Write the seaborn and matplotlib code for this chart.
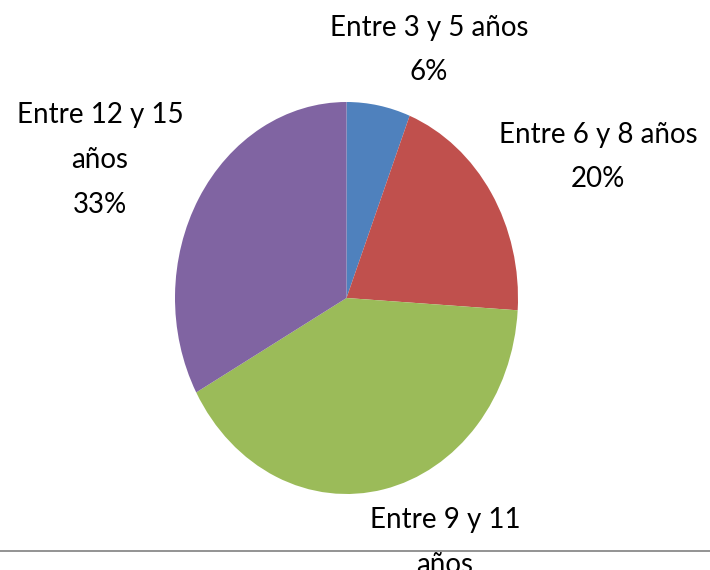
import matplotlib.pyplot as plt
import seaborn as sns
from matplotlib.lines import Line2D

# grupos de edad y porcentaje
grupos = ["Entre 3 y 5 años", "Entre 6 y 8 años", "Entre 9 y 11 años", "Entre 12 y 15 años"]
porcentajes = [6, 20, 41, 33]
etiquetas = ["Entre 3 y 5 años\n6%", "Entre 6 y 8 años\n20%",
             "Entre 9 y 11\naños\n41%", "Entre 12 y 15\naños\n33%"]
colores = ["#4F81BD", "#C0504D", "#9BBB59", "#8064A2"]

# posiciones de las etiquetas en pixeles (x, y desde arriba)
pos_etiquetas = [(429, 50), (598, 157), (445, 565), (100, 160)]

sns.set_theme(style="white")
plt.rcParams['font.family'] = ['Lato', 'DejaVu Sans']

W, H = 710, 570
fig = plt.figure(figsize=(W / 100, H / 100), dpi=100)
fig.patch.set_facecolor("white")
ax = fig.add_axes([175 / W, 1 - 494 / H, 343 / W, 392 / H])
ax.pie(porcentajes, colors=colores, startangle=90, counterclock=False,
       wedgeprops=dict(linewidth=0))
ax.set_aspect('auto')
ax.set_xlim(-1, 1)
ax.set_ylim(-1, 1)
ax.axis('off')

for txt, (px, py) in zip(etiquetas, pos_etiquetas):
    fig.text(px / W, 1 - py / H, txt, ha='center', va='center', fontsize=20,
             color='black', linespacing=1.9)

# linea gris del borde inferior
fig.add_artist(Line2D([0, 1], [1 - 551 / H, 1 - 551 / H], color='#808080', lw=1.2,
                      transform=fig.transFigure))

fig.savefig("out.png", dpi=100)
